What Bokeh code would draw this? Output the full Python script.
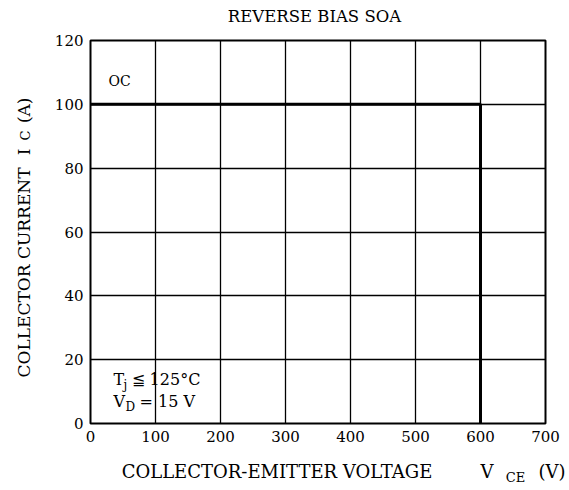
import math
from bokeh.plotting import figure
from bokeh.models import Range1d, FixedTicker, LinearAxis, Label
from bokeh.embed import file_html
from bokeh.resources import INLINE

# ---- data ----
soa_vce = [0, 600, 600]
soa_ic = [100, 100, 0]
x_ticks = [0, 100, 200, 300, 400, 500, 600, 700]
y_ticks = [0, 20, 40, 60, 80, 100, 120]
title_text = "REVERSE BIAS SOA"
EN = "\u2002"
x_label_parts = ["COLLECTOR-EMITTER VOLTAGE", "V" + EN * 5 + "(V)"]
x_label_sub = "CE"
y_label_parts = ["COLLECTOR CURRENT", "I" + EN * 3 + "(A)"]
y_label_sub = "C"

FONT = "DejaVu Serif"
W, H = 565, 488
BL, BR, BT, BB = 90, 20, 40, 65
FW, FH = W - BL - BR, H - BT - BB
X0, X1, Y0, Y1 = 0, 700, 0, 120

p = figure(width=W, height=H, output_backend="svg", toolbar_location=None,
           x_range=Range1d(X0, X1), y_range=Range1d(Y0, Y1),
           min_border_left=BL, min_border_right=BR, min_border_top=BT,
           min_border_bottom=BB)

p.outline_line_color = "black"
p.outline_line_width = 2
p.background_fill_color = "white"
p.border_fill_color = "white"

# page-pixel ranges used only to place the title / axis-title pieces
p.extra_x_ranges = {"px": Range1d(BL, W - BR)}
p.extra_y_ranges = {"py": Range1d(BT + FH, BT)}


def style_axis(ax, size):
    ax.major_tick_line_color = None
    ax.minor_tick_line_color = None
    ax.major_tick_out = 0
    ax.major_tick_in = 0
    ax.minor_tick_out = 0
    ax.axis_line_color = None
    ax.major_label_text_font = FONT
    ax.major_label_text_font_size = size
    ax.major_label_text_color = "black"


for ax, ticks in ((p.xaxis[0], x_ticks), (p.yaxis[0], y_ticks)):
    ax.ticker = FixedTicker(ticks=ticks)
    style_axis(ax, "15px")
p.xaxis.major_label_standoff = 7
p.yaxis.major_label_standoff = 7

p.xgrid.ticker = FixedTicker(ticks=x_ticks)
p.ygrid.ticker = FixedTicker(ticks=y_ticks)
for g in (p.xgrid[0], p.ygrid[0]):
    g.grid_line_color = "black"
    g.grid_line_width = 1.3
    g.grid_line_alpha = 1.0

p.line(soa_vce, soa_ic, line_color="black", line_width=3)

# ---- title (centred above the frame) ----
tpos = [314.0]
ta = LinearAxis(x_range_name="px", ticker=FixedTicker(ticks=tpos),
                major_label_overrides={tpos[0]: title_text})
style_axis(ta, "16.5px")
ta.major_label_standoff = 15
p.add_layout(ta, "above")

# ---- x axis title pieces (tick labels of extra axes, centred on page px) ----
xpos = [276.5, 531.5]
xa = LinearAxis(x_range_name="px", ticker=FixedTicker(ticks=xpos),
                major_label_overrides={float(k): t for k, t in zip(xpos, x_label_parts)})
style_axis(xa, "18px")
xa.major_label_standoff = 16
p.add_layout(xa, "below")

xsub = [515.0]
xs = LinearAxis(x_range_name="px", ticker=FixedTicker(ticks=xsub),
                major_label_overrides={xsub[0]: x_label_sub})
style_axis(xs, "13px")
xs.major_label_standoff = -15
p.add_layout(xs, "below")

# ---- y axis title pieces (rotated; tick marks the top end of each piece) ----
ysub = [130.0]
ys = LinearAxis(y_range_name="py", ticker=FixedTicker(ticks=ysub),
                major_label_overrides={ysub[0]: y_label_sub},
                major_label_orientation=math.pi / 2)
style_axis(ys, "13px")
ys.major_label_standoff = 26
p.add_layout(ys, "left")

ypos = [167.0, 97.0]
ya = LinearAxis(y_range_name="py", ticker=FixedTicker(ticks=ypos),
                major_label_overrides={float(k): t for k, t in zip(ypos, y_label_parts)},
                major_label_orientation=math.pi / 2)
style_axis(ya, "17px")
ya.major_label_standoff = -16
p.add_layout(ya, "left")


def dx(px):
    return X0 + (px - BL) / FW * (X1 - X0)


def dy(py):
    return Y0 + (BT + FH - py) / FH * (Y1 - Y0)


def lab(px, py, text, size=13):
    p.add_layout(Label(x=dx(px), y=dy(py), text=text, text_font=FONT,
                       text_font_size=f"{size}px", text_align="left",
                       text_baseline="middle", text_color="black"))


# inside annotations
lab(108, 80, "OC", 14)
lab(113, 379, "T", 16)
lab(123, 384, "j", 12)
lab(131, 379, "≦ 125°C", 16)
lab(113, 401, "V", 16)
lab(125, 406, "D", 12)
lab(139, 401, "= 15 V", 16)

open("out.html", "w").write(file_html(p, INLINE))
